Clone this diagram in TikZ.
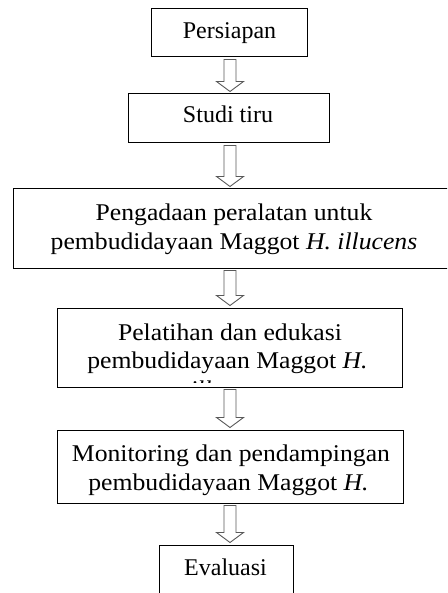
\documentclass[tikz,border=0pt]{standalone}
\usepackage{fontspec}
\setmainfont{Liberation Serif}
\newfontfamily\cmb[FakeStretch=1.07]{Liberation Serif}
\usetikzlibrary{calc}
\tikzset{
  box/.style={draw=black, line width=1pt, inner sep=0pt, rectangle},
  txt/.style={anchor=base, inner sep=0pt, font=\fontsize{24}{28.5}\selectfont},
  ctxt/.style={anchor=base, inner sep=0pt, font=\cmb\fontsize{24}{28.5}\selectfont},
  arr/.style={draw=black!65, line width=0.9pt, fill=white, line join=miter}
}
\newcommand\hollowarrow[2]{%
  \draw[arr] let \p1=(#1.south), \p2=(#2.north) in
    (224pt,\y1-2pt) -- (224pt,\y2+12pt) -- (216.5pt,\y2+12pt) -- (230pt,\y2+2pt)
    -- (243.5pt,\y2+12pt) -- (236pt,\y2+12pt) -- (236pt,\y1-2pt) -- cycle;}
\begin{document}
\begin{tikzpicture}[x=1pt,y=-1pt]
\useasboundingbox (0,0) rectangle (447,593);
\clip (0,0) rectangle (447,593);
\fill[white] (0,0) rectangle (447,593);
% boxes
\node[box, minimum width=156pt, minimum height=48pt] (b1) at (229,33) {};
\node[box, minimum width=201pt, minimum height=49pt] (b2) at (228.5,118.5) {};
\node[box, minimum width=442pt, minimum height=79pt] (b3) at (234,228.5) {};
\node[box, minimum width=345pt, minimum height=79pt] (b4) at (229.5,347.5) {};
\node[box, minimum width=346pt, minimum height=73pt] (b5) at (230,466.5) {};
\node[box, minimum width=134pt, minimum height=65pt] (b6) at (226,577.5) {};
% texts
\node[txt] (t1) at (229.5,38.5) {Persiapan};
\node[txt] (t2) at (228,122.5) {Studi tiru};
\node[ctxt] (t3a) at (234,221) {Pengadaan peralatan untuk};
\node[ctxt] (t3b) at (234,249.5) {pembudidayaan Maggot \textit{H. illucens}};
\begin{scope}
  \clip (b4.north west) rectangle ([yshift=5.5pt]b4.south east);
  \node[ctxt] (t4a) at (230,340) {Pelatihan dan edukasi};
  \node[ctxt] (t4b) at (227.5,368.5) {pembudidayaan Maggot \textit{H.}};
  \node[ctxt] (t4c) at (230,397) {\textit{illucens}};
\end{scope}
\node[ctxt] (t5a) at (231,461.5) {Monitoring dan pendampingan};
\node[ctxt] (t5b) at (228.5,490) {pembudidayaan Maggot \textit{H.}};
\node[txt] (t6) at (225.5,575) {Evaluasi};
% arrows
\hollowarrow{b1}{b2}
\hollowarrow{b2}{b3}
\hollowarrow{b3}{b4}
\hollowarrow{b4}{b5}
\hollowarrow{b5}{b6}
\end{tikzpicture}
\end{document}
